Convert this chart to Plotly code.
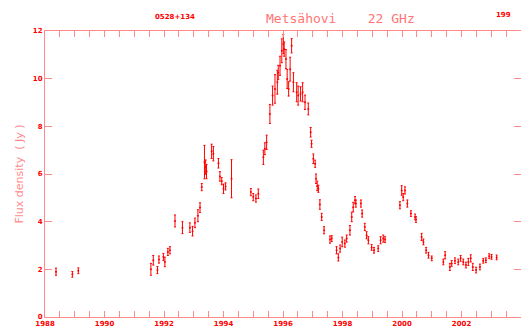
import plotly.graph_objects as go

years = [1988.37, 1988.92, 1989.12, 1991.56, 1991.64, 1991.78, 1991.83, 1991.98, 1992.03, 1992.13,
         1992.20, 1992.37, 1992.62, 1992.87, 1992.96, 1993.04, 1993.14, 1993.21, 1993.27, 1993.36,
         1993.40, 1993.43, 1993.60, 1993.66, 1993.83, 1993.88, 1993.94, 1994.00, 1994.07, 1994.27,
         1994.92, 1995.00, 1995.09, 1995.17, 1995.34, 1995.39, 1995.45, 1995.56, 1995.65, 1995.73,
         1995.81, 1995.84, 1995.90, 1995.96, 1996.01, 1996.04, 1996.10, 1996.14, 1996.19, 1996.24,
         1996.29, 1996.35, 1996.46, 1996.51, 1996.59, 1996.66, 1996.74, 1996.85, 1996.93, 1996.96,
         1997.02, 1997.08, 1997.11, 1997.15, 1997.19, 1997.24, 1997.30, 1997.38, 1997.58, 1997.64,
         1997.80, 1997.86, 1997.92, 1997.99, 1998.08, 1998.14, 1998.25, 1998.31, 1998.36, 1998.42,
         1998.45, 1998.62, 1998.66, 1998.75, 1998.81, 1998.87, 1998.98, 1999.06, 1999.20, 1999.28,
         1999.37, 1999.43, 1999.93, 1999.99, 2000.04, 2000.10, 2000.18, 2000.30, 2000.44, 2000.47,
         2000.66, 2000.72, 2000.81, 2000.89, 2001.00, 2001.39, 2001.45, 2001.61, 2001.67, 2001.78,
         2001.89, 2001.97, 2002.06, 2002.15, 2002.23, 2002.31, 2002.38, 2002.49, 2002.62, 2002.73,
         2002.82, 2002.93, 2003.01, 2003.18]

flux = [1.90, 1.79, 1.94, 2.00, 2.38, 1.97, 2.41, 2.52, 2.31, 2.73,
        2.80, 4.03, 3.75, 3.75, 3.60, 3.95, 4.25, 4.59, 5.45, 6.50,
        6.29, 6.10, 6.95, 6.85, 6.45, 5.90, 5.70, 5.38, 5.48, 5.80,
        5.24, 5.03, 4.97, 5.17, 6.70, 7.06, 7.33, 8.52, 9.29, 9.57,
        9.85, 10.26, 10.54, 11.17, 11.45, 11.24, 10.82, 9.99, 9.57, 10.40,
        11.38, 9.85, 9.43, 9.29, 9.36, 9.43, 9.01, 8.73, 7.75, 7.27,
        6.64, 6.43, 5.80, 5.50, 5.38, 4.72, 4.20, 3.64, 3.25, 3.29,
        2.80, 2.50, 2.87, 3.15, 3.08, 3.29, 3.64, 4.20, 4.61, 4.90,
        4.76, 4.76, 4.34, 3.78, 3.43, 3.22, 2.92, 2.80, 2.87, 3.22,
        3.29, 3.25, 4.69, 5.31, 5.03, 5.31, 4.76, 4.34, 4.20, 4.09,
        3.36, 3.15, 2.80, 2.59, 2.46, 2.31, 2.59, 2.10, 2.25, 2.36,
        2.31, 2.46, 2.31, 2.18, 2.31, 2.46, 2.10, 1.97, 2.10, 2.36,
        2.38, 2.55, 2.52, 2.50]

flux_err = [0.15, 0.12, 0.12, 0.25, 0.20, 0.15, 0.15, 0.15, 0.20, 0.15,
            0.15, 0.25, 0.25, 0.20, 0.20, 0.20, 0.25, 0.20, 0.15, 0.70,
            0.30, 0.30, 0.30, 0.30, 0.20, 0.20, 0.15, 0.20, 0.15, 0.80,
            0.15, 0.15, 0.15, 0.20, 0.30, 0.25, 0.30, 0.40, 0.40, 0.60,
            0.50, 0.30, 0.40, 0.50, 0.40, 0.30, 0.40, 0.40, 0.30, 0.50,
            0.30, 0.40, 0.40, 0.40, 0.30, 0.40, 0.30, 0.25, 0.20, 0.15,
            0.20, 0.15, 0.20, 0.20, 0.15, 0.20, 0.15, 0.15, 0.15, 0.12,
            0.15, 0.15, 0.15, 0.20, 0.15, 0.15, 0.20, 0.20, 0.20, 0.15,
            0.15, 0.15, 0.15, 0.15, 0.15, 0.15, 0.12, 0.12, 0.12, 0.15,
            0.15, 0.12, 0.15, 0.20, 0.15, 0.15, 0.15, 0.12, 0.12, 0.12,
            0.15, 0.12, 0.12, 0.12, 0.10, 0.12, 0.15, 0.15, 0.12, 0.12,
            0.12, 0.12, 0.12, 0.12, 0.15, 0.15, 0.15, 0.12, 0.12, 0.10,
            0.10, 0.10, 0.10, 0.10]

x_ticks = [1988 + 0.5 * i for i in range(33)]
x_ticktext = [str(int(v)) if (v == int(v) and int(v) % 2 == 0) else "" for v in x_ticks]
y_ticks = [0, 2, 4, 6, 8, 10, 12]

AXIS = "#ff8a8a"
RED = "#ff0000"

fig = go.Figure()
fig.add_trace(go.Scatter(
    x=years, y=flux, mode="markers",
    marker=dict(color=RED, size=2),
    error_y=dict(type="data", array=flux_err, color=RED, thickness=1, width=1),
    cliponaxis=False, showlegend=False,
))

tickfont = dict(family="DejaVu Sans", size=7, color=RED, weight="bold")
fig.update_xaxes(
    range=[1988, 2004], tickmode="array", tickvals=x_ticks, ticktext=x_ticktext,
    ticks="inside", ticklen=6, tickcolor=AXIS, tickwidth=1,
    showline=True, linecolor=AXIS, linewidth=1, mirror="ticks",
    showgrid=False, zeroline=False, tickfont=tickfont, ticklabelstandoff=0,
)
fig.update_yaxes(
    range=[0, 12], tickmode="array", tickvals=y_ticks,
    ticks="inside", ticklen=7, tickcolor=AXIS, tickwidth=1,
    showline=True, linecolor=AXIS, linewidth=1, mirror="ticks",
    showgrid=False, zeroline=False, tickfont=tickfont,
    title=dict(text="Flux density  ( Jy )", font=dict(family="DejaVu Sans", size=11, color=AXIS), standoff=6),
)

fig.add_annotation(xref="x", yref="paper", x=1992.37, y=1.05, xanchor="center", yanchor="middle",
                   text="0528+134", showarrow=False,
                   font=dict(family="DejaVu Sans", size=7, color=RED, weight="bold"))
fig.add_annotation(xref="x", yref="paper", x=1997.92, y=1.045, xanchor="center", yanchor="middle",
                   text="Metsähovi    22 GHz", showarrow=False,
                   font=dict(family="DejaVu Sans Mono", size=13, color="#ff7575"))
fig.add_annotation(xref="x", yref="paper", x=2003.4, y=1.057, xanchor="center", yanchor="middle",
                   text="199", showarrow=False,
                   font=dict(family="DejaVu Sans", size=7, color=RED, weight="bold"))

fig.update_layout(
    width=521, height=327,
    margin=dict(l=45, r=0, t=31, b=10),
    paper_bgcolor="white", plot_bgcolor="white",
)
fig.write_html("out.html")
